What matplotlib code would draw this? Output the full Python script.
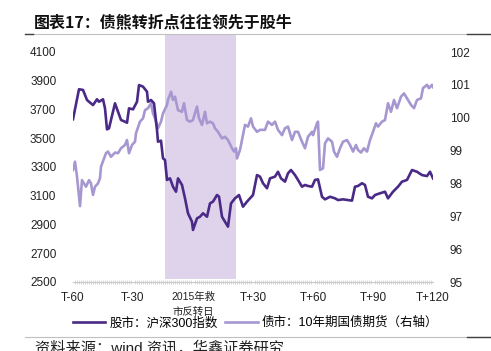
import matplotlib
matplotlib.use("Agg")
import matplotlib.pyplot as plt
from matplotlib.lines import Line2D
from matplotlib.patches import Rectangle

plt.rcParams['font.family'] = ['Liberation Sans', 'Noto Sans CJK SC', 'DejaVu Sans']

# ---- data ----
stock_t = [-60, -57, -55, -53, -52, -50, -48, -47, -45, -44, -43, -42, -39, -37.5, -36, -34,
           -33, -32, -30, -28, -27, -25, -23, -22.5, -21, -19.5, -18, -17.5, -16, -15, -14,
           -13, -11.5, -10, -8.5, -7.5, -5.5, -4, -2.5, -0.5, 0, 2, 3.5, 5, 7, 8.5, 10, 12,
           13, 14.5, 16, 17.5, 19, 21, 23, 25, 27, 28.5, 30, 32, 33.5, 35, 37, 38.5, 41,
           42.5, 44, 46, 47.5, 49, 51, 52.5, 54.5, 56, 57.5, 59.5, 61, 62.5, 64.5, 66, 68.5,
           71, 72.5, 75, 77.5, 79.5, 81, 82.5, 84.5, 86, 87.5, 89.5, 91, 93.5, 96, 97.5, 100,
           102.5, 104.5, 107, 109.5, 112, 114.5, 117, 118.5, 120]
stock_val = [3632, 3841, 3836, 3766, 3754, 3731, 3771, 3754, 3771, 3708, 3562, 3569, 3743,
             3685, 3627, 3615, 3608, 3708, 3701, 3754, 3870, 3859, 3824, 3754, 3766, 3743,
             3557, 3476, 3483, 3360, 3349, 3210, 3221, 3163, 3128, 3221, 3175, 3082, 2978,
             2919, 2862, 2943, 2954, 2978, 2954, 3047, 3059, 3105, 3094, 2954, 2919, 2885,
             3047, 3082, 3105, 3024, 3059, 3082, 3105, 3244, 3233, 3187, 3152, 3221, 3233,
             3267, 3221, 3198, 3256, 3279, 3244, 3210, 3163, 3175, 3168, 3163, 3210, 3214,
             3093, 3075, 3093, 3082, 3070, 3075, 3070, 3066, 3163, 3168, 3187, 3175, 3093,
             3082, 3105, 3117, 3128, 3082, 3128, 3163, 3198, 3210, 3279, 3267, 3244, 3237,
             3267, 3221]

bond_t = [-60, -59, -58, -56.5, -55.5, -54, -53.5, -52, -51, -50, -49, -47.5, -46.5, -46,
          -44.5, -43.5, -42.5, -41, -39, -37.5, -36, -34, -33, -32, -30.5, -29, -28.5,
          -26.5, -25, -24, -22.5, -21, -20, -19, -17.5, -16, -15, -13, -12.5, -11, -10, -9,
          -7.5, -5.5, -4.5, -3, -1.5, 0, 2, 3, 4.5, 6, 7, 8.5, 10, 11, 12.5, 14.5, 16, 17.5,
          19.5, 20.5, 21.5, 22, 23.5, 25, 26, 27.5, 29, 30, 32, 33.5, 36, 37.5, 39.5, 41,
          42.5, 44.5, 46, 47.5, 49.5, 51, 52.5, 54.5, 56, 57.5, 59.5, 60, 62, 62.5, 63.5, 65,
          66, 67.5, 69.5, 70.5, 72, 73.5, 75, 77, 78.5, 80, 81.5, 82.5, 84, 85.5, 87, 88.5,
          90, 91.5, 92.5, 94.5, 96, 97.5, 99, 100.5, 102, 104, 105.5, 107, 109, 110.5, 112,
          114, 115, 117, 118, 119.5, 120]
bond_val = [98.41, 98.66, 98.21, 97.31, 98.10, 97.95, 97.90, 98.10, 98.00, 97.65, 97.90,
            98.00, 98.16, 98.51, 98.76, 98.92, 98.97, 98.81, 98.94, 98.92, 99.07, 99.17,
            99.32, 98.92, 99.17, 99.27, 99.53, 99.88, 99.98, 100.23, 100.29, 100.44, 100.13,
            99.98, 99.68, 99.88, 100.13, 100.39, 100.54, 100.79, 100.54, 100.64, 100.23,
            100.18, 100.44, 99.93, 99.88, 99.93, 100.34, 99.98, 99.78, 100.18, 99.83, 99.88,
            99.83, 99.68, 99.57, 99.37, 99.42, 99.32, 99.07, 98.97, 99.07, 98.76, 99.02,
            99.47, 99.78, 99.73, 99.98, 99.73, 99.57, 99.63, 99.63, 99.88, 99.78, 99.88,
            99.63, 99.47, 99.68, 99.73, 99.32, 99.57, 99.57, 99.27, 99.07, 99.42, 99.57,
            99.47, 99.83, 99.88, 98.41, 98.46, 99.22, 99.37, 99.27, 98.97, 98.81, 99.07,
            99.27, 99.32, 99.17, 98.97, 99.17, 99.02, 98.94, 99.07, 98.97, 99.32, 99.57,
            99.83, 99.73, 99.88, 99.93, 100.44, 100.18, 100.54, 100.29, 100.64, 100.74,
            100.59, 100.39, 100.29, 100.54, 100.59, 100.90, 101.00, 100.90, 101.00, 100.93]

x_ticks = [-60, -30, 0, 30, 60, 90, 120]
x_labels = ['T-60', 'T-30', '2015年救\n市反转日', 'T+30', 'T+60', 'T+90', 'T+120']
left_ticks = [2500, 2700, 2900, 3100, 3300, 3500, 3700, 3900, 4100]
right_ticks = [95, 96, 97, 98, 99, 100, 101, 102]
shade_span = (-14, 21.5)

stock_name = '股市：沪深300指数'
bond_name = '债市：10年期国债期货（右轴）'
title = '图表17：债熊转折点往往领先于股牛'
source = '资料来源：wind 资讯，华鑫证券研究'

DARK = '#4A2A86'
LIGHT = '#A797D1'
SHADE = '#DED3EB'

W, H = 491, 351
fig = plt.figure(figsize=(W / 100, H / 100), dpi=100)
ax = fig.add_axes([73 / W, 1 - 282 / H, 360 / W, 230 / H])
ax2 = ax.twinx()

# shaded rescue window (extends above the plot like the original), behind both lines
ax2.add_patch(Rectangle((shade_span[0], 0.013), shade_span[1] - shade_span[0], 1.065,
                        transform=ax2.get_xaxis_transform(), facecolor=SHADE,
                        edgecolor='none', clip_on=False, zorder=0))

ax2.plot(bond_t, bond_val, color=LIGHT, lw=1.9, solid_joinstyle='round', zorder=2)
ax.plot(stock_t, stock_val, color=DARK, lw=1.9, solid_joinstyle='round')
ax.set_zorder(ax2.get_zorder() + 1)
ax.patch.set_visible(False)

ax.set_xlim(-60, 120)
ax.set_ylim(2500, 4100)
ax2.set_ylim(95, 102)
ax.set_xticks(x_ticks)
ax.set_xticklabels(x_labels)
ax.set_yticks(left_ticks)
ax2.set_yticks(right_ticks)
ax.set_xticks(range(-60, 121), minor=True)

for a in (ax, ax2):
    for s in ('top', 'left', 'right', 'bottom'):
        a.spines[s].set_visible(False)
ax.spines['bottom'].set_visible(True)
ax.spines['bottom'].set_color('#C8C8C8')
ax.spines['bottom'].set_linewidth(0.8)

ax.tick_params(axis='x', which='major', length=0, pad=7, labelsize=8.5, colors='#222222')
ax.tick_params(axis='x', which='minor', length=2.5, width=0.5, color='#C8C8C8', direction='inout')
ax.tick_params(axis='y', length=0, pad=12, labelsize=8.5, colors='#222222')
ax2.tick_params(axis='y', length=0, pad=12, labelsize=8.5, colors='#222222')
for lab in ax.get_xticklabels():
    if '年' in lab.get_text():
        lab.set_fontsize(7.5)
        lab.set_linespacing(1.6)

# title and rules
fig.text(34 / W, 1 - 22 / H, title, fontsize=11.5, fontweight='bold',
         family=['Noto Sans CJK SC'], va='center', ha='left', color='#111111')
fig.add_artist(Line2D([25 / W, 1], [1 - 34 / H] * 2, color='#C0C0C0', lw=0.8))
fig.add_artist(Line2D([25 / W, 33 / W], [1 - 34 / H] * 2, color='#404040', lw=1.0))
fig.add_artist(Line2D([467 / W, 1], [1 - 34 / H] * 2, color='#404040', lw=1.0))
fig.add_artist(Line2D([25 / W, 1], [1 - 337 / H] * 2, color='#C0C0C0', lw=0.8))
fig.add_artist(Line2D([467 / W, 1], [1 - 337 / H] * 2, color='#404040', lw=1.0))

handles = [Line2D([], [], color=DARK, lw=1.9), Line2D([], [], color=LIGHT, lw=1.9)]
fig.legend(handles, [stock_name, bond_name], loc='center', ncol=2,
           bbox_to_anchor=(0.52, 1 - 323 / H), frameon=False, fontsize=9,
           handlelength=2.6, handletextpad=0.3, columnspacing=0.6)

fig.text(35 / W, 1 - 348 / H, source, fontsize=11, va='center', ha='left', color='#222222')

fig.savefig('out.png', dpi=100)
